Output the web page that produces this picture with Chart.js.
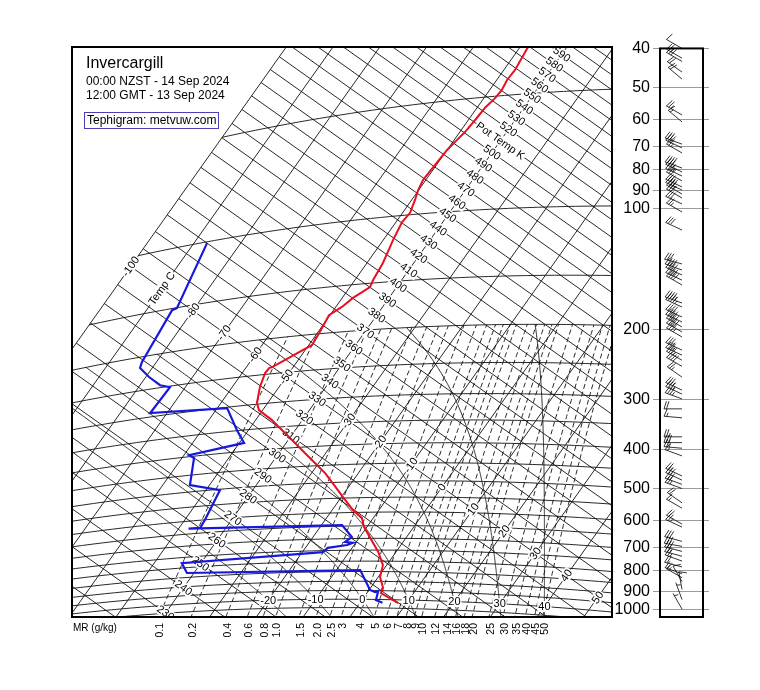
<!DOCTYPE html>
<html><head><meta charset="utf-8">
<script src="https://cdn.jsdelivr.net/npm/chart.js@4.4.1/dist/chart.umd.min.js"></script>
<style>html,body{margin:0;padding:0;background:#fff}canvas{display:block}</style>
</head><body>
<canvas id="c" width="760" height="690"></canvas>
<script>
// ---------------- values ----------------
const tempP = [37.5,42.9,45.4,48.3,50.6,53.4,56.7,61.5,64.3,68.1,74.3,81.0,86.2,91.3,98.8,104.2,116.1,121.0,133.1,147.3,153.6,162.9,171.3,179.1,199.3,213.7,239.7,240.8,247.8,269.6,297.7,311.6,334.1,350.3,381.4,415.4,442.6,471.7,498.5,546.2,591.1,621.1,654.9,758.0,818.7,877.7,930.0,962.9,1018.8];
const tempC = [-48.3,-47.6,-47.8,-47.4,-47.6,-48.3,-48.5,-48.9,-49.4,-50.0,-50.3,-50.6,-50.1,-49.3,-48.4,-48.7,-47.9,-47.5,-46.6,-46.1,-45.7,-47.7,-48.7,-50.2,-49.6,-49.3,-54.5,-55.0,-55.1,-54.1,-52.3,-50.8,-46.5,-43.9,-39.2,-34.4,-30.8,-27.1,-24.3,-19.7,-15.6,-12.4,-10.6,-3.8,-0.8,0.4,2.5,3.0,8.2];
const dewP = [100.9,150.4,151.7,207.1,214.9,230.5,246.1,251.6,292.3,301.7,348.6,379.5,396.2,404.9,478.6,502.7,600.1,629.5,628.3,646.0,693.6,714.0,718.2,727.1,738.3,756.5,776.1,826.8,843.3,946.7,957.4,951.3,1003.2,1018.8];
const dewC = [-87.2,-83.8,-84.5,-83.1,-82.6,-79.3,-75.7,-73.3,-73.6,-57.9,-52.5,-49.0,-58.9,-57.4,-54.2,-47.0,-45.7,-45.5,-47.9,-15.6,-11.7,-12.4,-10.6,-11.5,-15.2,-15.6,-44.1,-41.5,-4.9,0.2,1.6,2.1,3.0,4.8];

const pressureTicks = [40,50,60,70,80,90,100,200,300,400,500,600,700,800,900,1000];
const isobarLevels = [50,100,150,200,250,300,350,400,450,500,550,600,650,700,750,800,850,900,950,1000,1050];
const isothermLevels = [-100,-90,-80,-70,-60,-50,-40,-30,-20,-10,0,10,20,30,40,50,60];
const isentropeLevels = [200,210,220,230,240,250,260,270,280,290,300,310,320,330,340,350,360,370,380,390,400,410,420,430,440,450,460,470,480,490,500,510,520,530,540,550,560,570,580,590,600,610,620,630,640];
const satAdiabatLevels = [-20,-10,0,10,20,30,40];
const mixingRatios = [0.1,0.2,0.4,0.6,0.8,1.0,1.5,2.0,2.5,3,4,5,6,7,8,9,10,12,14,16,18,20,25,30,35,40,45,50];
const mixingRatioLabels = ["0.1","0.2","0.4","0.6","0.8","1.0","1.5","2.0","2.5","3","4","5","6","7","8","9","10","12","14","16","18","20","25","30","35","40","45","50"];
const thetaLabelLevels = [230,240,250,260,270,280,290,300,310,320,330,340,350,360,370,380,390,400,410,420,430,440,450,460,470,480,490,500,510,520,530,540,550,560,570,580,590];
const tempLabelLevels = [-100,-90,-80,-70,-60,-50,-30,-20,-10,0,10,20,30,40,50];

const windP = [40,42.3,43.1,45.8,47.7,58.6,61,69.3,70.8,72.9,79.5,81.3,83.2,85.6,88.6,90.2,92.3,94.4,97.7,102.3,113.5,137.9,142.8,146.9,151.3,155.6,172.6,176.6,187,192.4,198,203.8,209.7,226.1,232.8,239.7,248.3,264.1,284.5,291.1,299.2,316.9,333.6,372.1,384.6,397.3,415.1,465.8,477.1,488.8,500.7,543.6,560.5,614.3,624.9,678.2,697.9,718.5,738.6,759.4,785.4,816.7,835.4,854.7,893.7,947.4,1000];
const windDir = [300,300,300,305,310,300,310,290,295,300,290,295,295,300,295,295,300,300,295,300,295,285,290,295,295,300,290,295,295,295,300,300,300,295,295,300,300,305,295,295,290,270,275,270,270,275,290,295,295,290,290,305,300,300,295,285,280,285,285,290,285,290,300,330,350,340,330];
const windSpd = [10,25,30,20,20,25,15,30,30,25,40,35,35,30,35,40,35,30,30,25,30,30,40,40,40,40,45,45,40,40,40,40,35,35,35,35,40,25,35,35,35,20,15,25,30,25,15,25,30,30,25,20,15,20,25,30,30,30,25,25,20,15,15,10,10,5,5];

// ---------------- tephigram projection (chart units) ----------------
const KAPPA = 0.288;
const ORIGIN = {x: 317.4 - 72, y: 398.9 - 47};
const T_REF = -40, TH_REF = 330, T_SCALE = 3.816, LNTH_SCALE = 727;
const EA = 0.8158, EB = 0.5784;
function tephXY(Tc, theta) {
  const a = T_SCALE * (Tc - T_REF);
  const b = LNTH_SCALE * Math.log(theta / TH_REF);
  return {x: ORIGIN.x + a * EA + b * EB, y: ORIGIN.y + a * EB - b * EA};
}
function thetaOf(Tc, p) { return (Tc + 273.15) * Math.pow(1000 / p, KAPPA); }
function ptXY(Tc, p) { return tephXY(Tc, thetaOf(Tc, p)); }
function esat(Tc) { return 6.112 * Math.exp(17.67 * Tc / (Tc + 243.5)); }
function moistLapse(Tk, p) {
  const es = esat(Tk - 273.15);
  const rs = 0.622 * es / (p - es);
  const L = 2.501e6;
  return (287.04 * Tk + L * rs) / (p * (1005.7 + L * L * rs * 0.622 / (287.04 * Tk * Tk)));
}
function satAdiabat(thw) {
  const up = [], down = [];
  let T = thw + 273.15, p = 1000;
  while (p >= 200) {
    up.push(ptXY(T - 273.15, p));
    const dp = -2;
    const k1 = moistLapse(T, p);
    const k2 = moistLapse(T + k1 * dp, p + dp);
    T += 0.5 * (k1 + k2) * dp; p += dp;
  }
  T = thw + 273.15; p = 1000;
  while (p <= 1250) {
    const dp = 2;
    const k1 = moistLapse(T, p);
    const k2 = moistLapse(T + k1 * dp, p + dp);
    T += 0.5 * (k1 + k2) * dp; p += dp;
    down.push(ptXY(T - 273.15, p));
  }
  return down.reverse().concat(up);
}
function mixingLine(w) {
  const pts = [];
  for (let p = 1250; p >= 200; p -= 10) {
    const e = w * p / (622 + w);
    const l = Math.log(e / 6.112);
    pts.push(ptXY(243.5 * l / (17.67 - l), p));
  }
  return pts;
}

const FONT = '"Liberation Sans", Arial, Helvetica, sans-serif';

function labelBox(ctx, text, px, py, angle, size) {
  ctx.save();
  ctx.translate(px, py);
  ctx.rotate(angle);
  ctx.font = size + 'px ' + FONT;
  const w = ctx.measureText(text).width;
  ctx.fillStyle = '#fff';
  ctx.fillRect(-w / 2 - 1, -size / 2, w + 2, size);
  ctx.fillStyle = '#000';
  ctx.textAlign = 'center';
  ctx.textBaseline = 'middle';
  ctx.fillText(text, 0, 0.5);
  ctx.restore();
}

const gridPlugin = {
  id: 'tephiGrid',
  beforeDatasetsDraw(chart) {
    const {ctx, chartArea: ca, scales} = chart;
    const sx = scales.x, sy = scales.y;
    const P = pt => [sx.getPixelForValue(pt.x), sy.getPixelForValue(pt.y)];
    const poly = pts => {
      ctx.beginPath();
      pts.forEach((pt, i) => { const [px, py] = P(pt); i ? ctx.lineTo(px, py) : ctx.moveTo(px, py); });
      ctx.stroke();
    };
    ctx.save();
    ctx.beginPath();
    ctx.rect(ca.left, ca.top, ca.right - ca.left, ca.bottom - ca.top);
    ctx.clip();
    ctx.strokeStyle = '#111';
    ctx.lineWidth = 0.9;
    isothermLevels.forEach(T => poly([tephXY(T, 150), tephXY(T, 900)]));
    isentropeLevels.forEach(th => poly([tephXY(-100, th), tephXY(90, th)]));
    isobarLevels.forEach(p => {
      const pts = [];
      for (let T = -100; T <= 90; T += 2) pts.push(ptXY(T, p));
      poly(pts);
    });
    satAdiabatLevels.forEach(t => poly(satAdiabat(t)));
    ctx.setLineDash([5, 3]);
    mixingRatios.forEach(w => poly(mixingLine(w)));
    ctx.setLineDash([]);
    const angT = Math.atan2(-EA, EB);
    const angTh = Math.atan2(EB, EA);
    thetaLabelLevels.forEach(th => {
      const [px, py] = P(tephXY(T_REF, th));
      labelBox(ctx, th === 510 ? 'Pot Temp K' : String(th), px, py, angTh, 11);
    });
    tempLabelLevels.forEach(T => {
      const [px, py] = P(tephXY(T, TH_REF));
      labelBox(ctx, T === -90 ? 'Temp C' : String(T), px, py, angT, 11);
    });
    satAdiabatLevels.forEach(t => {
      const [px, py] = P(ptXY(t, 1000));
      labelBox(ctx, String(t), px, py, 0, 11);
    });
    ctx.restore();
  },
  afterDraw(chart) {
    const {ctx, chartArea: ca, scales} = chart;
    const sx = scales.x, sy = scales.y, sp = scales.p;
    ctx.save();
    // frame
    ctx.strokeStyle = '#000';
    ctx.lineWidth = 2;
    ctx.strokeRect(ca.left, ca.top, ca.right - ca.left, ca.bottom - ca.top);
    // titles
    ctx.fillStyle = '#000';
    ctx.textAlign = 'left';
    ctx.textBaseline = 'alphabetic';
    ctx.font = '16px ' + FONT;
    ctx.fillText('Invercargill', 86, 68);
    ctx.font = '12px ' + FONT;
    ctx.fillText('00:00 NZST - 14 Sep 2024', 86, 85);
    ctx.fillText('12:00 GMT - 13 Sep 2024', 86, 99);
    ctx.fillText('Tephigram: metvuw.com', 87, 124);
    ctx.strokeStyle = '#4b3fb5';
    ctx.lineWidth = 1;
    ctx.strokeRect(84.5, 112.5, 134, 16);
    // mixing ratio labels
    ctx.font = '10px ' + FONT;
    ctx.textBaseline = 'middle';
    ctx.fillText('MR (g/kg)', 73, 628);
    mixingRatios.forEach((w, i) => {
      const pts = mixingLine(w).map(pt => [sx.getPixelForValue(pt.x), sy.getPixelForValue(pt.y)]);
      let xb = null;
      for (let k = 1; k < pts.length; k++) {
        const [x0, y0] = pts[k - 1], [x1, y1] = pts[k];
        if ((y0 - ca.bottom) * (y1 - ca.bottom) <= 0 && y0 !== y1) { xb = x0 + (x1 - x0) * (ca.bottom - y0) / (y1 - y0); break; }
      }
      if (xb === null) return;
      ctx.save();
      ctx.translate(xb + 2, 623);
      ctx.rotate(-Math.PI / 2);
      ctx.font = '10.5px ' + FONT;
      ctx.textAlign = 'right';
      ctx.textBaseline = 'middle';
      ctx.fillText(mixingRatioLabels[i], 0, 0);
      ctx.restore();
    });
    // pressure axis + wind panel
    const panelL = 660, panelR = 703;
    ctx.strokeStyle = '#9a9a9a';
    ctx.lineWidth = 1;
    pressureTicks.forEach(p => {
      const y = Math.round(sp.getPixelForValue(p)) + 0.5;
      ctx.beginPath(); ctx.moveTo(653, y); ctx.lineTo(709, y); ctx.stroke();
    });
    ctx.fillStyle = '#000';
    ctx.font = '16px ' + FONT;
    ctx.textAlign = 'right';
    ctx.textBaseline = 'middle';
    pressureTicks.forEach(p => ctx.fillText(String(p), 650, sp.getPixelForValue(p) + 0.5));
    ctx.strokeStyle = '#000';
    ctx.lineWidth = 2;
    const pTop = sp.getPixelForValue(40);
    ctx.strokeRect(panelL, pTop, panelR - panelL, ca.bottom - pTop);
    // wind barbs
    ctx.lineWidth = 0.8;
    const cx = 682;
    windP.forEach((p, i) => {
      const y = sp.getPixelForValue(p);
      const r = windDir[i] * Math.PI / 180;
      const s = [Math.sin(r), -Math.cos(r)];
      const n = [-s[1], s[0]];
      const L = 18, FL = 8, a = 108 * Math.PI / 180;
      const tip = [cx + s[0] * L, y + s[1] * L];
      ctx.beginPath();
      ctx.moveTo(cx, y); ctx.lineTo(tip[0], tip[1]);
      let rem = Math.round(windSpd[i] / 5) * 5, pos = 0;
      const f = [Math.cos(a) * s[0] + Math.sin(a) * n[0], Math.cos(a) * s[1] + Math.sin(a) * n[1]];
      while (rem >= 10) {
        const b = [tip[0] - s[0] * pos, tip[1] - s[1] * pos];
        ctx.moveTo(b[0], b[1]); ctx.lineTo(b[0] + f[0] * FL, b[1] + f[1] * FL);
        pos += 2.5; rem -= 10;
      }
      if (rem >= 5) {
        if (pos === 0) pos = 2.5;
        const b = [tip[0] - s[0] * pos, tip[1] - s[1] * pos];
        ctx.moveTo(b[0], b[1]); ctx.lineTo(b[0] + f[0] * FL / 2, b[1] + f[1] * FL / 2);
      }
      ctx.stroke();
    });
    ctx.restore();
  }
};

const tempData = tempP.map((p, i) => ptXY(tempC[i], p));
const dewData = dewP.map((p, i) => ptXY(dewC[i], p));

new Chart(document.getElementById('c'), {
  type: 'scatter',
  data: {
    datasets: [
      {label: 'Temperature', data: tempData, showLine: true, borderColor: 'rgb(232,16,32)', borderWidth: 2, pointRadius: 0, fill: false, tension: 0},
      {label: 'Dew point', data: dewData, showLine: true, borderColor: 'rgb(24,24,220)', borderWidth: 2.2, pointRadius: 0, fill: false, tension: 0}
    ]
  },
  options: {
    responsive: false,
    animation: false,
    events: [],
    layout: {padding: {left: 72, top: 47, right: 148, bottom: 73}},
    plugins: {legend: {display: false}, tooltip: {enabled: false}, title: {display: false}},
    scales: {
      x: {type: 'linear', display: false, min: 0, max: 540},
      y: {type: 'linear', display: false, min: 0, max: 570, reverse: true},
      p: {type: 'logarithmic', display: false, position: 'right', min: 100 * Math.pow(10, (47 - 208) / 401), max: 100 * Math.pow(10, (617 - 208) / 401), reverse: true}
    }
  },
  plugins: [gridPlugin]
});
</script>
</body></html>
